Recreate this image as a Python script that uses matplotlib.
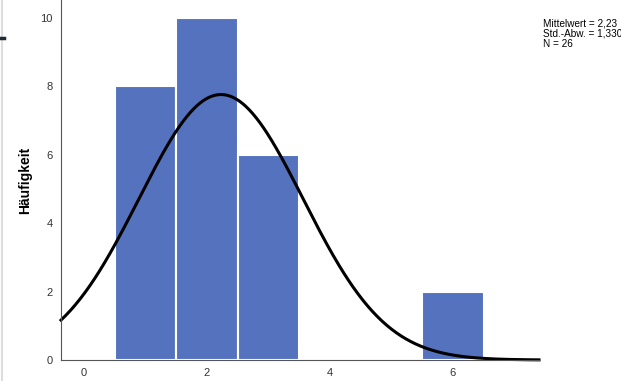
import numpy as np
import matplotlib
matplotlib.use("Agg")
import matplotlib.pyplot as plt

# histogram data
bin_centers = [1, 2, 3, 4, 5, 6]
counts = [8, 10, 6, 0, 0, 2]
mean_label = "2,23"
std_label = "1,330"
n_label = "26"

values = np.repeat(bin_centers, counts)
mean = values.mean()
std = values.std(ddof=1)
n = len(values)

plt.rcParams["font.family"] = ["Liberation Sans", "DejaVu Sans"]

fig = plt.figure(figsize=(6.21, 3.81), dpi=100)
ax = fig.add_axes([61 / 621, 21 / 381, 478 / 621, 360 / 381])

ax.bar(bin_centers, counts, width=1.0, color="#5572BE", edgecolor="white", linewidth=1.5)

xs = np.linspace(-0.37, 7.4, 400)
ys = n * 1.0 * np.exp(-0.5 * ((xs - mean) / std) ** 2) / (std * np.sqrt(2 * np.pi))
ax.plot(xs, ys, color="black", linewidth=2.2, clip_on=False)

ax.set_xlim(-0.37, 7.4)
ax.set_ylim(0, 10.53)
ax.set_xticks([0, 2, 4, 6])
ax.set_yticks([0, 2, 4, 6, 8, 10])
ax.tick_params(length=0, labelsize=8, colors="#333333", pad=6)
ax.spines["top"].set_visible(False)
ax.spines["right"].set_visible(False)
ax.spines["left"].set_color("#555555")
ax.spines["bottom"].set_color("#555555")
ax.set_ylabel("Häufigkeit", fontsize=10, fontweight="bold", labelpad=6)

fig.text(543 / 621, 1 - 19 / 381,
         f"Mittelwert = {mean_label}\nStd.-Abw. = {std_label}\nN = {n_label}",
         fontsize=7.2, va="top", ha="left", linespacing=0.98)

# screenshot edge at the far left
fig.add_artist(plt.Line2D([2 / 621, 2 / 621], [0, 1], color="#dddddd", linewidth=1.5))
fig.add_artist(plt.Line2D([0, 4 / 621], [1 - 38 / 381, 1 - 38 / 381], color="#1e2a38", linewidth=2.5))

fig.savefig("out.png", dpi=100)
